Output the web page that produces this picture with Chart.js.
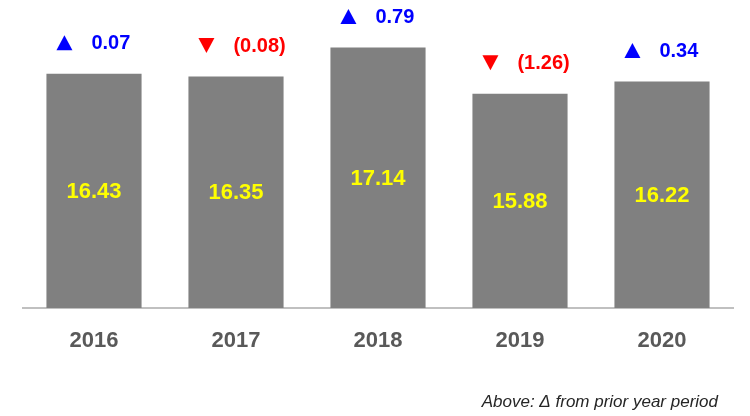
<!DOCTYPE html>
<html>
<head>
<meta charset="utf-8">
<script src="https://cdn.jsdelivr.net/npm/chart.js@4/dist/chart.umd.min.js"></script>
<style>
  html, body { margin: 0; padding: 0; background: #fff; }
  #wrap { width: 750px; height: 416px; position: relative; }
</style>
</head>
<body>
<div id="wrap"><canvas id="c" width="750" height="416"></canvas></div>
<script>
const years = ['2016', '2017', '2018', '2019', '2020'];
const values = [16.43, 16.35, 17.14, 15.88, 16.22];
const deltas = [0.07, -0.08, 0.79, -1.26, 0.34];
const footnote = 'Above: \u0394 from prior year period';

const FONT = '"Liberation Sans", Arial, sans-serif';

const labelPlugin = {
  id: 'labels',
  afterDatasetsDraw(chart) {
    const ctx = chart.ctx;
    const meta = chart.getDatasetMeta(0);
    const bottom = chart.chartArea.bottom;
    ctx.save();
    meta.data.forEach((bar, i) => {
      const left = bar.x - bar.width / 2;
      // value inside bar
      ctx.font = 'bold 22px ' + FONT;
      ctx.fillStyle = '#ffff00';
      ctx.textAlign = 'center';
      ctx.textBaseline = 'middle';
      ctx.fillText(values[i].toFixed(2), bar.x, (bar.y + bottom) / 2 + 1);

      // delta above bar
      const d = deltas[i];
      const up = d >= 0;
      const color = up ? '#0000ff' : '#ff0000';
      const cy = bar.y - 31;
      ctx.fillStyle = color;
      ctx.beginPath();
      const tx = left + 10, tw = 16, th = 15;
      if (up) {
        ctx.moveTo(tx, cy + th / 2);
        ctx.lineTo(tx + tw, cy + th / 2);
        ctx.lineTo(tx + tw / 2, cy - th / 2);
      } else {
        ctx.moveTo(tx, cy - th / 2);
        ctx.lineTo(tx + tw, cy - th / 2);
        ctx.lineTo(tx + tw / 2, cy + th / 2);
      }
      ctx.closePath();
      ctx.fill();
      ctx.font = 'bold 20px ' + FONT;
      ctx.textAlign = 'left';
      const txt = up ? Math.abs(d).toFixed(2) : '(' + Math.abs(d).toFixed(2) + ')';
      ctx.fillText(txt, left + 45, cy + 1);
    });
    // footnote
    ctx.font = 'italic 17px ' + FONT;
    ctx.fillStyle = '#262626';
    ctx.textAlign = 'right';
    ctx.textBaseline = 'middle';
    ctx.fillText(footnote, 718, 402);
    ctx.restore();
  }
};

new Chart(document.getElementById('c'), {
  type: 'bar',
  data: {
    labels: years,
    datasets: [{
      data: values,
      backgroundColor: '#808080',
      borderWidth: 0,
      categoryPercentage: 1.0,
      barPercentage: 0.67
    }]
  },
  options: {
    responsive: false,
    animation: false,
    devicePixelRatio: 1,
    layout: { padding: { left: 23, right: 17, top: 16, bottom: 0 } },
    plugins: { legend: { display: false }, tooltip: { enabled: false } },
    scales: {
      x: {
        grid: { display: false, drawTicks: false, tickLength: 0 },
        border: { display: true, color: '#c0c0c0', width: 2 },
        ticks: {
          color: '#595959',
          font: { family: FONT, size: 22, weight: 'bold' },
          padding: 20,
          maxRotation: 0
        },
        afterFit(axis) { axis.height = 108; }
      },
      y: {
        display: false,
        min: 10.05,
        max: 18
      }
    }
  },
  plugins: [labelPlugin]
});
</script>
</body>
</html>
